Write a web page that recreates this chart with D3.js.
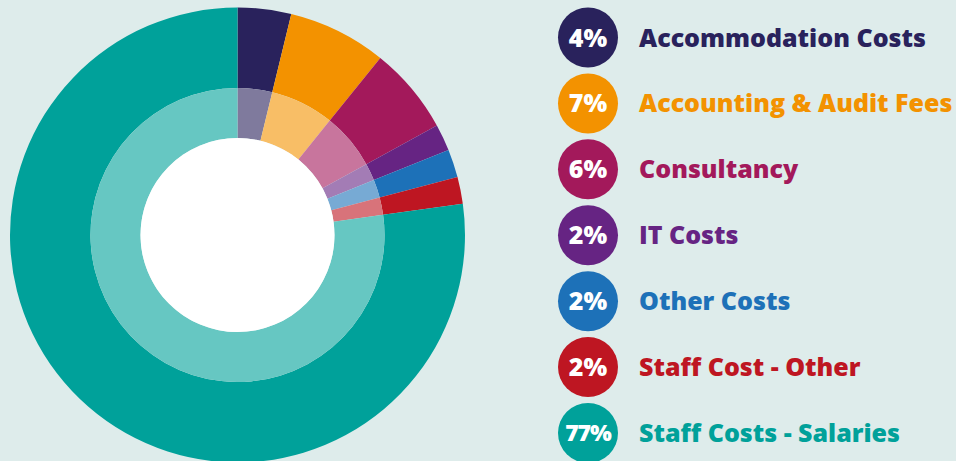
<!DOCTYPE html>
<html>
<head>
<meta charset="utf-8">
<script src="https://cdn.jsdelivr.net/npm/d3@7"></script>
<style>
  body { margin: 0; background: #deeceb; }
  svg { display: block; }
</style>
</head>
<body>
<div class="main"></div>
<script>
// chart data
var categories = ["Accommodation Costs", "Accounting & Audit Fees", "Consultancy", "IT Costs", "Other Costs", "Staff Cost - Other", "Staff Costs - Salaries"];
var shares = [3.8, 7.0, 6.2, 1.9, 2.0, 1.9, 77.2];
var pctLabels = ["4%", "7%", "6%", "2%", "2%", "2%", "77%"];
var colours = ["#29225c", "#f39200", "#a3195b", "#662483", "#1d71b8", "#be1622", "#00a19a"];

var width = 956, height = 461;
var cx = 237.5, cy = 235;
var rOuter = 227.5, rMid = 147, rHole = 97;

var svg = d3.select(".main")
	.append("svg")
	.attr("width", width)
	.attr("height", height);

svg.append("rect")
	.attr("width", width)
	.attr("height", height)
	.attr("fill", "#deeceb");

var data = categories.map(function(c, i) { return {name: c, value: shares[i], i: i}; });

var pie = d3.pie()
	.sort(null)
	.value(function(d) { return d.value; });

var arcs = pie(data);

var outerArc = d3.arc().innerRadius(rMid).outerRadius(rOuter);
var innerArc = d3.arc().innerRadius(rHole).outerRadius(rMid);

var g = svg.append("g")
	.attr("transform", "translate(" + cx + "," + cy + ")");

//outer ring, full colour
g.append("g").attr("class", "outer")
	.selectAll("path")
	.data(arcs)
	.enter()
	.append("path")
	.attr("d", outerArc)
	.attr("fill", function(d) { return colours[d.data.i]; });

//inner ring, tinted
g.append("g").attr("class", "inner")
	.selectAll("path")
	.data(arcs)
	.enter()
	.append("path")
	.attr("d", innerArc)
	.attr("fill", function(d) { return d3.interpolateRgb(colours[d.data.i], "#ffffff")(0.4); });

g.append("circle")
	.attr("r", rHole)
	.attr("fill", "#ffffff");

//legend
var yScale = d3.scalePoint()
	.domain(categories)
	.range([37.5, 433])

var legend = svg.append("g").attr("class", "legend")
	.selectAll("g")
	.data(data)
	.enter()
	.append("g")
	.attr("transform", function(d) { return "translate(588," + yScale(d.name) + ")"; });

legend.append("circle")
	.attr("r", 30)
	.attr("fill", function(d) { return colours[d.i]; });

legend.append("text")
	.attr("text-anchor", "middle")
	.attr("dy", "0.36em")
	.attr("fill", "#ffffff")
	.style("font-family", "'Open Sans', sans-serif")
	.style("font-weight", 800)
	.style("font-size", function(d) { return pctLabels[d.i].length > 2 ? "23px" : "25px"; })
	.style("letter-spacing", function(d) { return pctLabels[d.i].length > 2 ? "-1px" : "0px"; })
	.text(function(d) { return pctLabels[d.i]; });

legend.append("text")
	.attr("x", 51)
	.attr("dy", "0.36em")
	.attr("fill", function(d) { return colours[d.i]; })
	.style("font-family", "'Open Sans', sans-serif")
	.style("font-weight", 800)
	.style("font-size", "25px")
	.text(function(d) { return d.name; });
</script>
</body>
</html>
